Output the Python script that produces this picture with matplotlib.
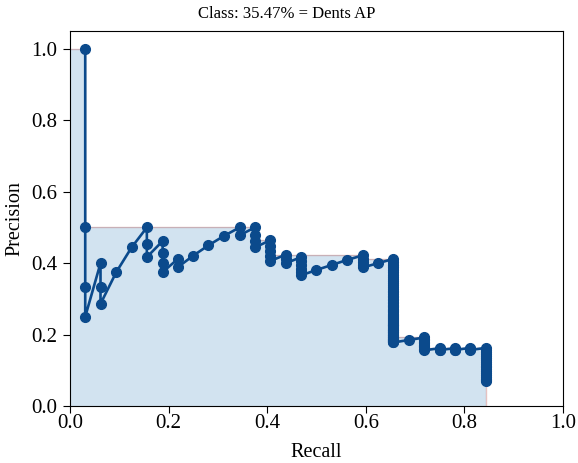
import numpy as np
import matplotlib
matplotlib.use("Agg")
import matplotlib.pyplot as plt

plt.rcParams['font.family'] = ['Liberation Serif', 'DejaVu Serif']

ap_text = "Class: 35.47% = Dents AP"

# recall reached at each true positive (27 of 32 objects found)
recall_levels = [0.031, 0.062, 0.094, 0.125, 0.156, 0.188, 0.219, 0.250, 0.281,
                 0.312, 0.344, 0.375, 0.406, 0.438, 0.469, 0.500, 0.531, 0.562,
                 0.594, 0.625, 0.656, 0.688, 0.719, 0.750, 0.781, 0.812, 0.844]

# precision of the detections ranked at each recall level
precision_runs = [
    [1.000, 0.500, 0.333, 0.250],
    [0.400, 0.333, 0.286],
    [0.375],
    [0.444],
    [0.500, 0.455, 0.417],
    [0.462, 0.429, 0.400, 0.375],
    [0.412, 0.389],
    [0.421],
    [0.450],
    [0.476],
    [0.500, 0.478],
    [0.500, 0.480, 0.462, 0.444],
    [0.464, 0.448, 0.433, 0.419, 0.406],
    [0.424, 0.412, 0.400],
    [0.417, 0.405, 0.395, 0.385, 0.375, 0.366],
    [0.381],
    [0.395],
    [0.409],
    [0.422, 0.413, 0.404, 0.396, 0.388],
    [0.400],
    [0.412, 0.404, 0.396, 0.389, 0.382, 0.375, 0.368, 0.362, 0.356, 0.350,
     0.344, 0.339, 0.333, 0.328, 0.323, 0.318, 0.313, 0.309, 0.304, 0.300,
     0.296, 0.292, 0.288, 0.284, 0.280, 0.276, 0.273, 0.269, 0.266, 0.263,
     0.259, 0.256, 0.253, 0.250, 0.247, 0.244, 0.241, 0.239, 0.236, 0.233,
     0.231, 0.228, 0.226, 0.223, 0.221, 0.219, 0.216, 0.214, 0.212, 0.210,
     0.208, 0.206, 0.204, 0.202, 0.200, 0.198, 0.196, 0.194, 0.193, 0.191,
     0.189, 0.188, 0.186, 0.184, 0.183, 0.181, 0.179, 0.178],
    [0.185],
    [0.192, 0.188, 0.184, 0.180, 0.176, 0.172, 0.168, 0.164, 0.160, 0.156],
    [0.162, 0.160, 0.158, 0.157],
    [0.162, 0.160, 0.158, 0.157],
    [0.163, 0.161, 0.159, 0.157],
    [0.163, 0.157, 0.152, 0.146, 0.141, 0.135, 0.130, 0.124, 0.119, 0.113,
     0.108, 0.103, 0.097, 0.092, 0.087, 0.082, 0.077, 0.073, 0.070],
]

recall = np.repeat(recall_levels, [len(r) for r in precision_runs])
precision = np.concatenate([np.array(r) for r in precision_runs])

# interpolated (monotone) precision used for the AP area
interp = np.maximum.accumulate(precision[::-1])[::-1]
env_r = np.concatenate([[0.0], recall, [recall[-1]]])
env_p = np.concatenate([[interp[0]], interp, [0.0]])

fig = plt.figure(figsize=(5.78, 4.63), dpi=100)
ax = fig.add_axes([0.121, 0.123, 0.853, 0.810])

ax.fill_between(env_r, env_p, step='pre', color='#1f77b4', alpha=0.2, linewidth=0)
ax.step(env_r, env_p, where='pre', color='#b5524f', alpha=0.35, linewidth=1.0)
ax.plot(recall, precision, '-o', color='#0b4a8c', markersize=7, linewidth=1.9)

ax.set_xlim(0.0, 1.0)
ax.set_ylim(0.0, 1.05)
ax.set_xticks([0.0, 0.2, 0.4, 0.6, 0.8, 1.0])
ax.set_yticks([0.0, 0.2, 0.4, 0.6, 0.8, 1.0])
ax.tick_params(labelsize=15, length=5)
ax.tick_params(axis='x', pad=1)
ax.tick_params(axis='y', pad=4)
ax.set_xlabel('Recall', fontsize=14.5, labelpad=7)
ax.set_ylabel('Precision', fontsize=14.5, labelpad=5)
ax.set_title(ap_text, fontsize=12, pad=9.5, x=0.44)

fig.savefig('out.png', dpi=100)
